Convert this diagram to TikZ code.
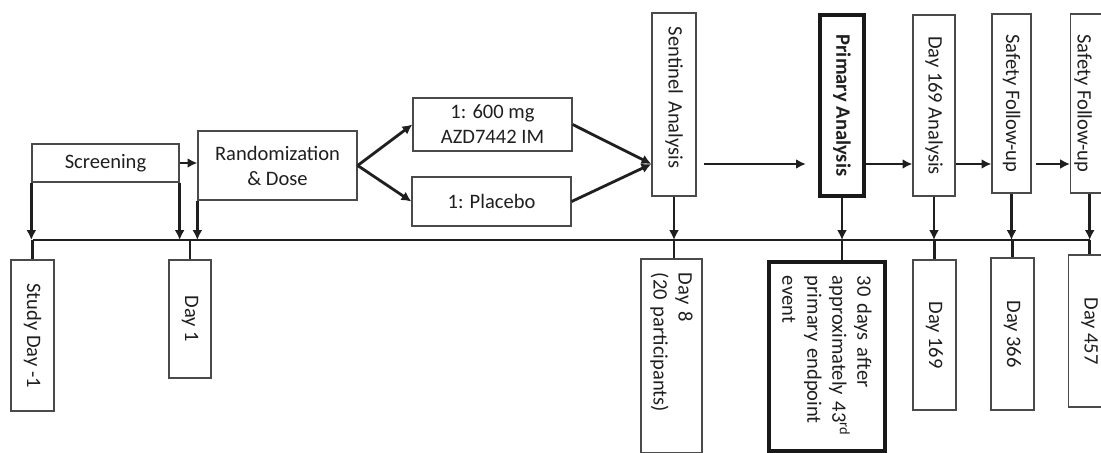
\documentclass[tikz,border=0pt]{standalone}
\usepackage{fontspec}
\setmainfont{Carlito}
\usetikzlibrary{arrows.meta,calc}
\definecolor{ink}{HTML}{1F1F1F}
\definecolor{rim}{HTML}{4A4A4A}

\begin{document}
\begin{tikzpicture}[x=0.025cm, y=-0.025cm, >={Latex[length=7pt,width=7pt]},
    every node/.style={font=\fontsize{14.6}{17.8}\selectfont, text=ink, inner sep=0pt},
    box/.style={draw=rim, line width=0.9pt},
    vbox/.style={box, rotate=-90},
    cutbox/.style={vbox, inner ysep=0pt, text height=1.2cm, anchor=south},
    heavy/.style={line width=3pt, draw=black!90},
    flow/.style={->, line width=2pt, draw=black!88},
    tick/.style={line width=2pt, draw=black!88}]
    \useasboundingbox (0,0) rectangle (1101,453);
    \coordinate (tl) at (0,240);
    \coordinate (mid) at (0,164);

    \node[box,minimum width=3.675cm,minimum height=0.95cm] (screen) at (105.5,163) {Screening};
    \node[box,minimum width=3.975cm,minimum height=1.725cm,align=center] (rand) at (277.5,165.5)
      {Randomization\\\& Dose};
    \node[box,minimum width=3.975cm,minimum height=1.325cm,align=center] (dose600) at (492.5,124.5)
      {1: 600 mg\\AZD7442 IM};
    \node[box,minimum width=3.975cm,minimum height=1.225cm] (plac) at (491.5,201.5) {1: Placebo};
    \node[vbox,minimum height=1.1cm,text width=3.875cm,inner xsep=0.35cm,align=left] (sent) at (674,104.5)
      {Sentinel Analysis};
    \node[vbox,heavy,minimum width=4.525cm,minimum height=1.1cm,font=\fontsize{14.6}{17.8}\selectfont\bfseries] (prim) at (842,105.5)
      {Primary Analysis};
    \node[vbox,minimum width=4.525cm,minimum height=1.05cm] (d169a) at (934,105.5) {Day 169 Analysis};
    \node[vbox,minimum width=4.475cm,minimum height=0.975cm] (saf1) at (1011.5,103.5) {Safety Follow-up};
    \node[cutbox,minimum width=4.475cm,text depth=0.175cm] (saf2) at (1070,103.5) {Safety Follow-up};

    \node[vbox,minimum width=3.775cm,minimum height=1.075cm] (sd1) at (32.5,335.5) {Study Day -1};
    \node[vbox,minimum width=2.95cm,minimum height=1.05cm] (d1) at (190,319) {Day 1};
    \node[vbox,minimum height=1.525cm,text width=4.15cm,inner xsep=0.35cm,align=left] (d8) at (671.5,356)
      {Day 8\\(20 participants)};
    \node[vbox,heavy,minimum height=2.9cm,text width=4.025cm,inner xsep=0.35cm,align=left] (d30) at (827,356.5)
      {30 days after\\approximately 43\textsuperscript{rd}\\primary endpoint\\event};
    \node[vbox,minimum width=3.75cm,minimum height=1.075cm] (d169) at (934.5,335) {Day 169};
    \node[vbox,minimum width=3.8cm,minimum height=1.075cm] (d366) at (1012.5,334) {Day 366};
    \node[cutbox,minimum width=3.8cm,text depth=0.4cm] (d457) at (1068,331) {Day 457};

    \coordinate (s2foot) at ($(saf2.south east)!0.35!(saf2.north east)$);
    \coordinate (d457top) at ($(d457.south west)!0.33!(d457.north west)$);

    \draw[flow] (screen.east) -- (screen.east -| rand.west);
    \draw[flow] (rand.east) -- (dose600.west);
    \draw[flow] (rand.east) -- (plac.west);
    \draw[flow] (dose600.east) -- (sent.south |- mid);
    \draw[flow] (plac.east) -- (sent.south |- mid);
    \draw[flow,shorten <=0.18cm,shorten >=0.3cm] (sent.north |- mid) -- (prim.south |- mid);
    \draw[flow] (prim.north |- mid) -- (d169a.south |- mid);
    \draw[flow] (d169a.north |- mid) -- (saf1.south |- mid);
    \draw[flow,shorten <=0.1cm] (saf1.north |- mid) -- (saf2.south |- mid);

    \draw[tick] (sd1.west |- tl) -- (s2foot |- tl);
    \draw[flow] (screen.south west) -- (screen.south west |- tl);
    \draw[flow] (screen.south east) -- (screen.south east |- tl);
    \draw[flow] (rand.south west) -- (rand.south west |- tl);
    \draw[flow] (sent.east) -- (sent.east |- tl);
    \draw[flow] (prim.east) -- (prim.east |- tl);
    \draw[flow] (d169a.east) -- (d169a.east |- tl);
    \draw[flow] (saf1.east) -- (saf1.east |- tl);
    \draw[flow] (s2foot) -- (s2foot |- tl);

    \draw[tick] (sd1.west) -- (sd1.west |- tl);
    \draw[tick] (d1.west) -- (d1.west |- tl);
    \draw[tick] (sent.east |- tl) -- (sent.east |- d8.west);
    \draw[tick] (prim.east |- tl) -- (prim.east |- d30.west);
    \draw[tick] (d169.west) -- (d169.west |- tl);
    \draw[tick] (d366.west) -- (d366.west |- tl);
    \draw[tick] (d457top) -- (d457top |- tl);
\end{tikzpicture}
\end{document}
